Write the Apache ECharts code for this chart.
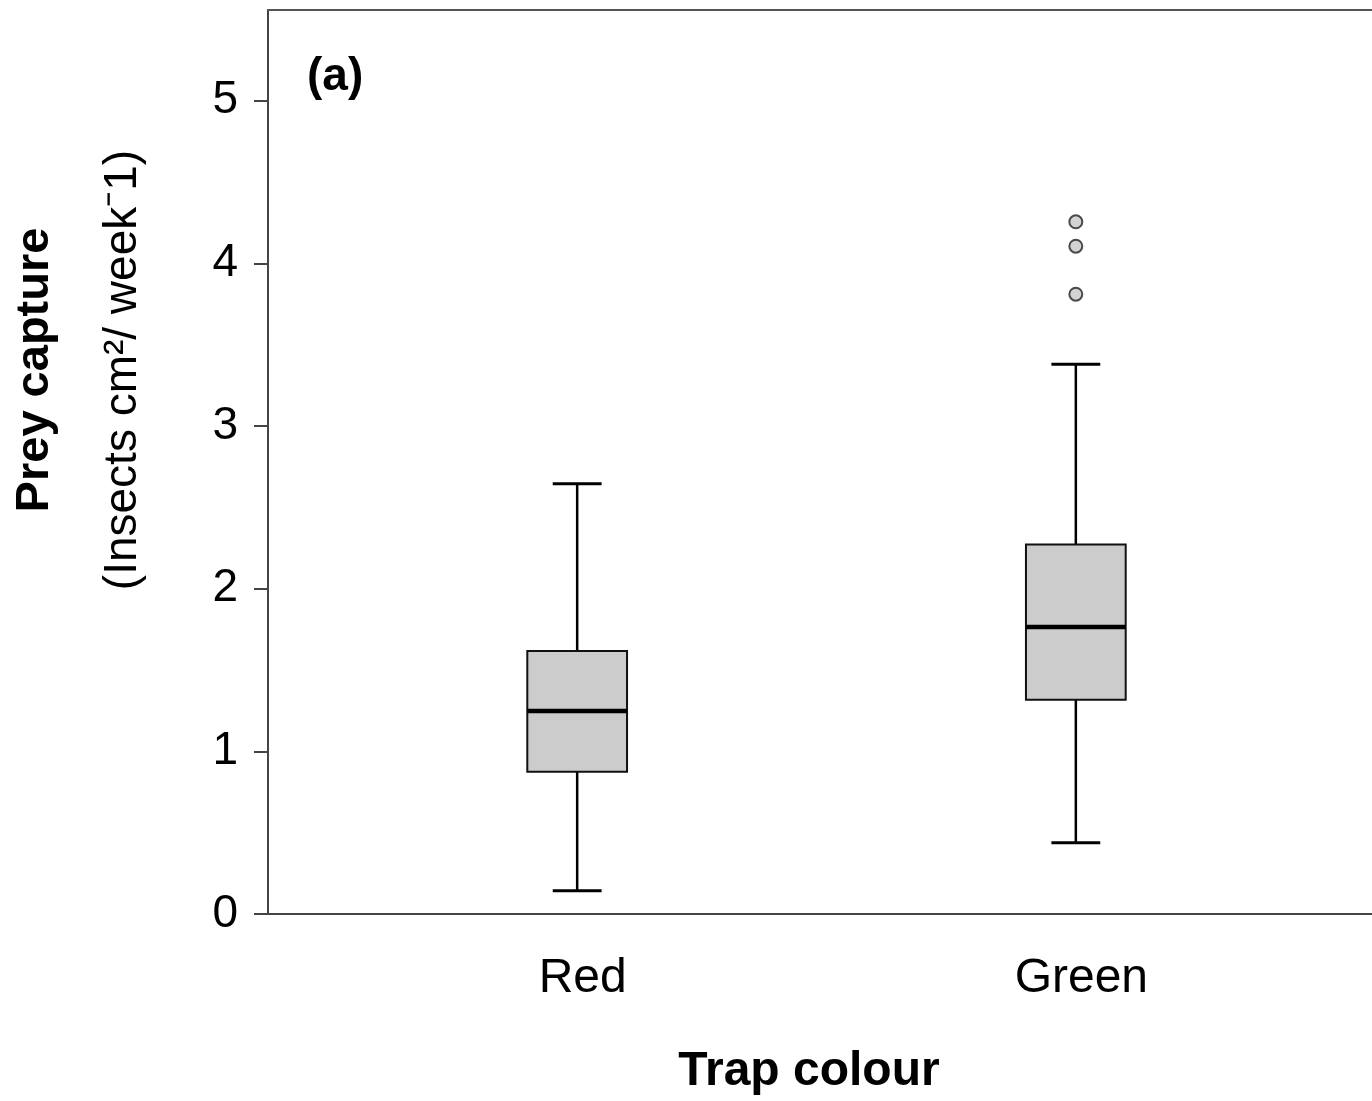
<!DOCTYPE html>
<html>
<head>
<meta charset="utf-8">
<script src="https://cdn.jsdelivr.net/npm/echarts@6/dist/echarts.min.js"></script>
<style>
  html, body { margin: 0; padding: 0; background: #fff; }
  #chart { width: 1372px; height: 1101px; }
</style>
</head>
<body>
<div id="chart"></div>
<script>
// ---- data ----
const categories = ['Red', 'Green'];
const whiskerLow = [0.143, 0.438];
const q1 = [0.875, 1.317];
const median = [1.248, 1.764];
const q3 = [1.617, 2.272];
const whiskerHigh = [2.645, 3.38];
const outlierValues = [[], [4.255, 4.105, 3.81]];
const yTicks = [0, 1, 2, 3, 4, 5];
const panelLabel = '(a)';

// ---- build series data ----
const boxData = categories.map((c, i) => [i + 1, whiskerLow[i], q1[i], median[i], q3[i], whiskerHigh[i]]);
const outlierData = [];
outlierValues.forEach((vals, i) => vals.forEach(v => outlierData.push([i + 1, v])));
const catPositions = categories.map((c, i) => i + 1);

const FONT = '"Liberation Sans", Arial, sans-serif';
const BOX_W = 0.2;
const CAP_W = 0.098;

const chart = echarts.init(document.getElementById('chart'), null, { renderer: 'canvas' });
chart.setOption({
  backgroundColor: '#ffffff',
  animation: false,
  title: {
    text: panelLabel,
    left: 307,
    top: 54,
    padding: 0,
    textStyle: { fontFamily: FONT, fontSize: 46, fontWeight: 'bold', color: '#000', lineHeight: 46 }
  },
  grid: { left: 268, right: -13, top: 10, bottom: 187, containLabel: false, outerBoundsMode: 'none' },
  xAxis: [{
    type: 'value',
    min: 0.38,
    max: 2.62,
    axisLine: { show: true, onZero: false, lineStyle: { color: '#444', width: 2 } },
    axisTick: { show: false },
    splitLine: { show: false },
    axisLabel: {
      customValues: catPositions,
      formatter: v => categories[Math.round(v) - 1] || '',
      fontFamily: FONT, fontSize: 48, color: '#000', margin: 41, lineHeight: 48,
      padding: [0, 0, 0, 11]
    },
    name: 'Trap colour',
    nameLocation: 'middle',
    nameGap: 134,
    nameTextStyle: { fontFamily: FONT, fontSize: 48, fontWeight: 'bold', color: '#000', lineHeight: 48, padding: [0, 35, 0, 0] }
  }, {
    type: 'value',
    position: 'top',
    min: 0.38,
    max: 2.62,
    axisLine: { show: true, onZero: false, lineStyle: { color: '#555', width: 2 } },
    axisTick: { show: false },
    axisLabel: { show: false },
    splitLine: { show: false }
  }],
  yAxis: {
    type: 'value',
    min: 0,
    max: 5.557,
    axisLine: { show: true, onZero: false, lineStyle: { color: '#444', width: 2 } },
    axisTick: { show: true, customValues: yTicks, length: 14, lineStyle: { color: '#444', width: 2 } },
    splitLine: { show: false },
    axisLabel: { customValues: yTicks, fontFamily: FONT, fontSize: 46, color: '#000', margin: 30 },
    name: '{b|Prey capture}\n{n|(Insects cm²/ week⁻1)}',
    nameLocation: 'middle',
    nameGap: 101,
    nameTextStyle: {
      padding: [0, 0, 0, 184],
      rich: {
        b: { fontFamily: FONT, fontSize: 47, fontWeight: 'bold', color: '#000', lineHeight: 88 },
        n: { fontFamily: FONT, fontSize: 46, color: '#000', lineHeight: 88 }
      }
    }
  },
  series: [{
    type: 'custom',
    data: boxData,
    encode: { x: 0, y: [1, 2, 3, 4, 5] },
    renderItem: function (params, api) {
      const x = api.value(0);
      const pLow = api.coord([x, api.value(1)]);
      const pQ1 = api.coord([x, api.value(2)]);
      const pMed = api.coord([x, api.value(3)]);
      const pQ3 = api.coord([x, api.value(4)]);
      const pHigh = api.coord([x, api.value(5)]);
      const halfBox = api.size([BOX_W, 0])[0] / 2;
      const halfCap = api.size([CAP_W, 0])[0] / 2;
      const cx = pMed[0];
      const lineStyle = { stroke: '#000', lineWidth: 2.5 };
      return {
        type: 'group',
        children: [
          { type: 'line', shape: { x1: cx, y1: pLow[1], x2: cx, y2: pQ1[1] }, style: lineStyle },
          { type: 'line', shape: { x1: cx, y1: pQ3[1], x2: cx, y2: pHigh[1] }, style: lineStyle },
          { type: 'line', shape: { x1: cx - halfCap, y1: pLow[1], x2: cx + halfCap, y2: pLow[1] }, style: { stroke: '#000', lineWidth: 3 } },
          { type: 'line', shape: { x1: cx - halfCap, y1: pHigh[1], x2: cx + halfCap, y2: pHigh[1] }, style: { stroke: '#000', lineWidth: 3 } },
          { type: 'rect', shape: { x: cx - halfBox, y: pQ3[1], width: halfBox * 2, height: pQ1[1] - pQ3[1] }, style: { fill: '#cccccc', stroke: '#111', lineWidth: 2 } },
          { type: 'line', shape: { x1: cx - halfBox, y1: pMed[1], x2: cx + halfBox, y2: pMed[1] }, style: { stroke: '#000', lineWidth: 4.5 } }
        ]
      };
    }
  }, {
    type: 'scatter',
    data: outlierData,
    symbol: 'circle',
    symbolSize: 13,
    itemStyle: { color: '#c8c8c8', borderColor: '#222', borderWidth: 2 }
  }]
});
</script>
</body>
</html>
